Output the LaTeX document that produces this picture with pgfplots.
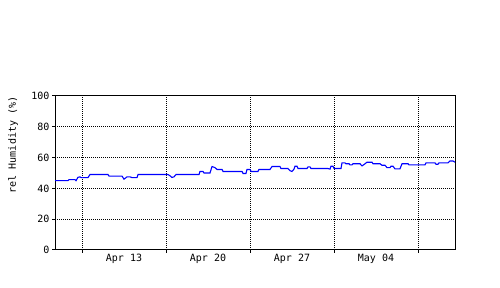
\documentclass[border=0pt]{standalone}
\usepackage{pgfplots}
\pgfplotsset{compat=1.18}
\usepackage{fontspec}
\setmainfont{DejaVu Sans Mono}
\begin{document}
\begin{tikzpicture}[x=1pt,y=1pt]
\path[use as bounding box] (0,0) rectangle (500,288);
\begin{axis}[
  at={(55pt,38pt)}, anchor=south west,
  scale only axis, width=400pt, height=154pt,
  xmin=0, xmax=400, ymin=0, ymax=100,
  axis line style={line width=1pt},
  xtick={27,111,195,279,363},
  xticklabels={},
  extra x ticks={69,153,237,321},
  extra x tick labels={Apr 13,Apr 20,Apr 27,May 04},
  extra x tick style={grid=none, major tick length=0pt,
     xticklabel style={yshift=-1pt}},
  ytick={0,20,40,60,80,100},
  xtick pos=bottom, ytick pos=left,
  tick align=outside,
  major tick length=3pt,
  tick style={line width=1pt, black},
  grid=major,
  major grid style={black, line width=1pt, dash pattern=on 1pt off 1pt},
  ticklabel style={font=\fontsize{10}{12}\selectfont},
  /pgf/number format/assume math mode=true,
  yticklabel style={xshift=1pt},
]
\addplot[color={rgb,1:red,0;green,0;blue,1}, line width=1.1pt, sharp plot] coordinates {
(0,45) (13,45) (14,45.7) (20,45.7) (21,45) (23,47.2) (25,47.5) (26,47)
(33,47) (35,49) (53,49) (54,48) (67,48) (69,46) (72,47.5) (75,47.5)
(77,47) (82,47) (83,49) (113,49) (115,48.2) (117,47.1) (119,47.5) (121,49)
(144,49) (145,51) (148,51) (149,50) (155,50) (157,54.2) (160,53.5) (162,52.3)
(167,52.3) (168,51) (187,51) (188,49.7) (191,49.7) (192,52.3) (195,52.3) (196,51)
(203,51) (204,52.3) (215,52.3) (217,54.2) (225,54.2) (226,52.9) (233,52.9) (235,51.5)
(237,51) (239,52.5) (240,54.4) (242,54.4) (243,52.9) (252,52.9) (253,54) (255,54)
(256,52.9) (273,52.9) (275,52.5) (276,54.4) (278,54.4) (279,52.9) (286,52.9) (287,56.6)
(290,56.6) (291,56) (294,56) (295,55.3) (297,55.3) (298,56) (305,56) (307,54.6)
(309,55.5) (312,57) (317,57) (318,56) (325,56) (327,55) (330,55) (332,53.5)
(335,53.5) (336,54.4) (338,54.4) (340,52.7) (345,52.7) (347,56) (353,56) (354,55.3)
(370,55.3) (371,56.6) (380,56.6) (381,55.7) (383,55.7) (384,56.6) (393,56.6) (395,57.8)
(398,57.8) (400,57)
};
\end{axis}
\node[rotate=90, font=\fontsize{10}{12}\selectfont] at (13,143) {rel Humidity (\%)};
\end{tikzpicture}
\end{document}
